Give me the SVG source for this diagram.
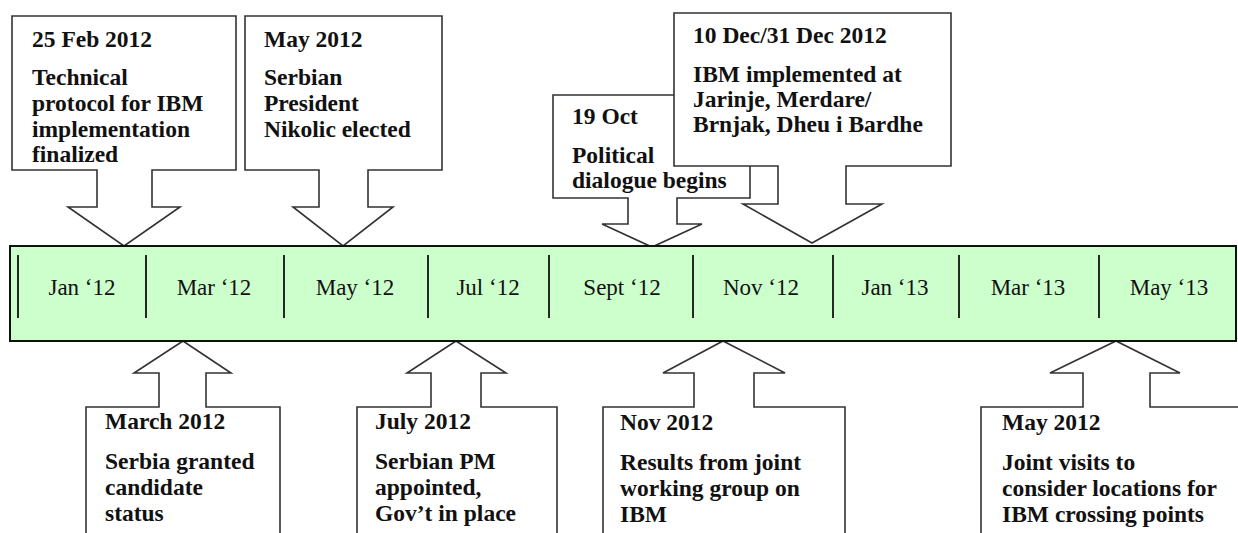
<svg xmlns="http://www.w3.org/2000/svg" width="1238" height="533" viewBox="0 0 1238 533">
<style>
.call{fill:#fff;stroke:#333;stroke-width:1.6;stroke-linejoin:miter}
.bar{fill:#ccffcc;stroke:#111;stroke-width:2}
.div{stroke:#111;stroke-width:1.8}
.t{font-family:"Liberation Serif","Times New Roman",serif;font-weight:bold;font-size:23.5px;fill:#111}
.m{font-family:"Liberation Serif","Times New Roman",serif;font-size:23px;fill:#111;text-anchor:middle}
</style>
<rect width="1238" height="533" fill="#fff"/>
<g id="connectors">
</g>
<g id="n-feb2012">
<path class="call" d="M12,16 H236 V170 H152 V207 H180 L124,246 L68,207 H97 V170 H12 Z"/>
<text class="t" x="32" y="47">25 Feb 2012</text>
<text class="t" x="32" y="85">Technical</text>
<text class="t" x="32" y="111">protocol for IBM</text>
<text class="t" x="32" y="137">implementation</text>
<text class="t" x="32" y="162">finalized</text>
</g>
<g id="n-may2012">
<path class="call" d="M245,16 H442 V170 H368 V207 H393 L343,246 L293,207 H319 V170 H245 Z"/>
<text class="t" x="264" y="47">May 2012</text>
<text class="t" x="264" y="85">Serbian</text>
<text class="t" x="264" y="111">President</text>
<text class="t" x="264" y="137">Nikolic elected</text>
</g>
<g id="n-oct">
<path class="call" d="M553,95 H750 V198 H677 V224 H702 L652,247 L602,224 H628 V198 H553 Z"/>
<text class="t" x="572" y="124">19 Oct</text>
<text class="t" x="572" y="163">Political</text>
<text class="t" x="572" y="188">dialogue begins</text>
</g>
<g id="n-dec">
<path class="call" d="M674,13 H951 V166 H846 V204 H882 L812,243 L743,204 H778 V166 H674 Z"/>
<text class="t" x="693" y="43">10 Dec/31 Dec 2012</text>
<text class="t" x="693" y="82">IBM implemented at</text>
<text class="t" x="693" y="107">Jarinje, Merdare/</text>
<text class="t" x="693" y="132">Brnjak, Dheu i Bardhe</text>
</g>
<g id="n-march">
<path class="call" d="M86,545 V407 H159 V373 H134 L183,341 L231,373 H206 V407 H280 V545"/>
<text class="t" x="105" y="429">March 2012</text>
<text class="t" x="105" y="469">Serbia granted</text>
<text class="t" x="105" y="495">candidate</text>
<text class="t" x="105" y="521">status</text>
</g>
<g id="n-july">
<path class="call" d="M357,545 V407 H431 V373 H407 L456,341 L506,373 H481 V407 H557 V545"/>
<text class="t" x="375" y="429">July 2012</text>
<text class="t" x="375" y="469">Serbian PM</text>
<text class="t" x="375" y="495">appointed,</text>
<text class="t" x="375" y="521">Gov’t in place</text>
</g>
<g id="n-nov">
<path class="call" d="M603,545 V407 H694 V373 H663 L723,341 L785,373 H754 V407 H845 V545"/>
<text class="t" x="620" y="430">Nov 2012</text>
<text class="t" x="620" y="470">Results from joint</text>
<text class="t" x="620" y="496">working group on</text>
<text class="t" x="620" y="522">IBM</text>
</g>
<g id="n-may-joint">
<path class="call" d="M981,545 V407 H1083 V373 H1050 L1116,341 L1180,373 H1150 V407 H1250 V545"/>
<text class="t" x="1002" y="430">May 2012</text>
<text class="t" x="1002" y="470">Joint visits to</text>
<text class="t" x="1002" y="496">consider locations for</text>
<text class="t" x="1002" y="522">IBM crossing points</text>
</g>
<g id="timeline">
<rect class="bar" x="10" y="246" width="1226" height="95"/>
<g>
<line class="div" x1="18" y1="255" x2="18" y2="318"/>
<line class="div" x1="146" y1="255" x2="146" y2="318"/>
<line class="div" x1="284" y1="255" x2="284" y2="318"/>
<line class="div" x1="428" y1="255" x2="428" y2="318"/>
<line class="div" x1="549" y1="255" x2="549" y2="318"/>
<line class="div" x1="693" y1="255" x2="693" y2="318"/>
<line class="div" x1="833" y1="255" x2="833" y2="318"/>
<line class="div" x1="959" y1="255" x2="959" y2="318"/>
<line class="div" x1="1099" y1="255" x2="1099" y2="318"/>
</g>
<text class="m" x="82" y="295">Jan ‘12</text>
<text class="m" x="214" y="295">Mar ‘12</text>
<text class="m" x="355" y="295">May ‘12</text>
<text class="m" x="488" y="295">Jul ‘12</text>
<text class="m" x="622" y="295">Sept ‘12</text>
<text class="m" x="761" y="295">Nov ‘12</text>
<text class="m" x="895" y="295">Jan ‘13</text>
<text class="m" x="1028" y="295">Mar ‘13</text>
<text class="m" x="1169" y="295">May ‘13</text>
</g>
</svg>
